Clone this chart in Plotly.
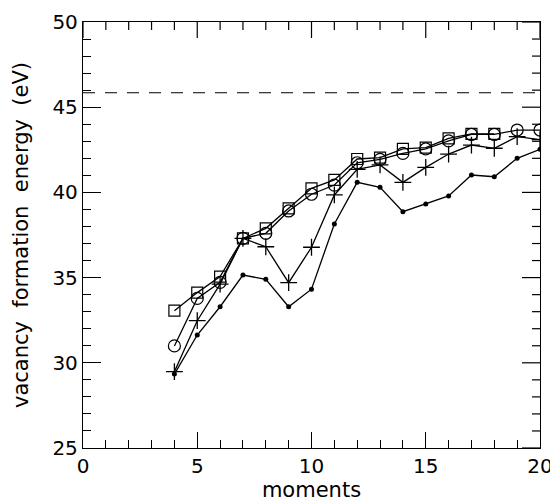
import plotly.graph_objects as go

moments_sq = [4, 5, 6, 7, 8, 9, 10, 11, 12, 13, 14, 15, 16, 17, 18]
energy_sq = [33.06, 34.12, 35.06, 37.30, 37.89, 39.06, 40.24, 40.73, 41.96, 42.04, 42.55, 42.63, 43.17, 43.43, 43.43]

moments_ci = [4, 5, 6, 7, 8, 9, 10, 11, 12, 13, 14, 15, 16, 17, 18, 19, 20]
energy_ci = [30.99, 33.78, 34.72, 37.30, 37.60, 38.91, 39.89, 40.43, 41.74, 41.94, 42.29, 42.55, 43.02, 43.40, 43.40, 43.66, 43.66]

moments_pl = [4, 5, 6, 7, 8, 9, 10, 11, 12, 13, 14, 15, 16, 17, 18, 19, 20]
energy_pl = [29.48, 32.47, 34.62, 37.30, 36.81, 34.70, 36.78, 39.85, 41.35, 41.61, 40.59, 41.47, 42.25, 42.78, 42.59, 43.27, 43.10]

moments_dt = [4, 5, 6, 7, 8, 9, 10, 11, 12, 13, 14, 15, 16, 17, 18, 19, 20]
energy_dt = [29.34, 31.63, 33.29, 35.15, 34.90, 33.29, 34.32, 38.15, 40.59, 40.30, 38.87, 39.32, 39.79, 41.02, 40.92, 42.00, 42.53]

reference_level = 45.85
x_ticks = [0, 5, 10, 15, 20]
y_ticks = [25, 30, 35, 40, 45, 50]
x_minor_ticks = list(range(0, 21))
y_minor_ticks = list(range(25, 51))
x_range = [0, 20]
y_range = [25, 50]

PLOT_W, PLOT_H = 457, 426

fig = go.Figure()
line = dict(color="black", width=1.3)
fig.add_trace(go.Scatter(x=x_range, y=[reference_level, reference_level], mode="lines",
                         line=dict(color="black", width=1.1, dash="12px,10px")))
fig.add_trace(go.Scatter(x=moments_dt, y=energy_dt, mode="lines+markers", line=line,
                         marker=dict(symbol="circle", size=5, color="black")))
fig.add_trace(go.Scatter(x=moments_pl, y=energy_pl, mode="lines+markers", line=line,
                         marker=dict(symbol="cross-thin-open", size=12, line=dict(color="black", width=1.3))))
fig.add_trace(go.Scatter(x=moments_ci, y=energy_ci, mode="lines+markers", line=line,
                         marker=dict(symbol="circle-open", size=12, color="black", line=dict(width=1.2))))
fig.add_trace(go.Scatter(x=moments_sq, y=energy_sq, mode="lines+markers", line=line,
                         marker=dict(symbol="square-open", size=11, color="black", line=dict(width=1.2))))

font = dict(family="DejaVu Sans, Arial, sans-serif", size=20, color="black")
common = dict(ticks="inside", tickwidth=1.2, tickcolor="black", showgrid=False, zeroline=False,
              showline=True, linecolor="black", linewidth=1.3, automargin=False, mirror=True)
minor = dict(dtick=1, ticks="inside", ticklen=8, tickwidth=1.2, tickcolor="black", showgrid=False)

# mirrored ticks on the top and right frame edges
shapes = []
for xv in x_minor_ticks:
    ln = 16 if xv in x_ticks else 8
    shapes.append(dict(type="line", xref="x", yref="paper", x0=xv, x1=xv, y0=1, y1=1 - ln / PLOT_H,
                       line=dict(color="black", width=1.2), layer="above"))
for yv in y_minor_ticks:
    ln = 18 if yv in y_ticks else 8
    shapes.append(dict(type="line", xref="paper", yref="y", x0=1, x1=1 - ln / PLOT_W, y0=yv, y1=yv,
                       line=dict(color="black", width=1.2), layer="above"))

fig.update_layout(
    width=550, height=504,
    margin=dict(l=83, r=10, t=22, b=56),
    paper_bgcolor="white", plot_bgcolor="white",
    showlegend=False,
    font=font,
    shapes=shapes,
    xaxis=dict(range=x_range, tickvals=x_ticks, ticklen=16, minor=minor, ticklabelstandoff=0,
               ticklabeloverflow="allow", tickfont=dict(size=20),
               title=dict(text="moments", standoff=5, font=dict(size=21)), **common),
    yaxis=dict(range=y_range, tickvals=y_ticks, ticklen=18, minor=minor, ticklabelstandoff=0,
               ticklabeloverflow="allow", tickfont=dict(size=20), **common),
    annotations=[dict(text="vacancy  formation  energy  (eV)", xref="paper", yref="paper",
                      x=-62 / 457, y=0.5, xanchor="center", yanchor="middle", textangle=-90,
                      showarrow=False, font=dict(size=21))],
)

fig.write_html("out.html", post_script="document.body.style.margin='0px';",
               config={"displayModeBar": False})
